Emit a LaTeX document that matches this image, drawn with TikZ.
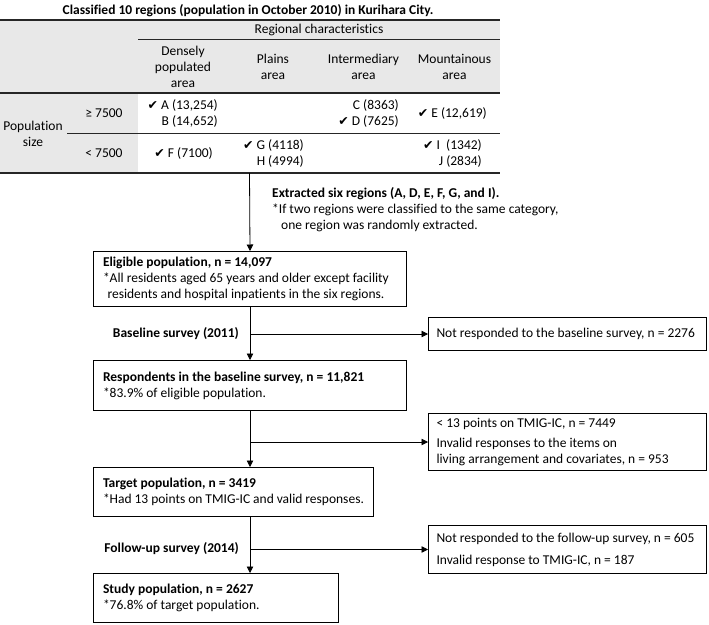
\documentclass[tikz,border=0pt]{standalone}
\usepackage{fontspec}
\setmainfont{Carlito}[Ligatures=NoCommon]
\newfontfamily\symfont{DejaVu Sans}
\usetikzlibrary{arrows.meta}
\newcommand\ck{{\symfont\fontsize{12.5}{12}\selectfont ✔}}
\begin{document}
\begin{tikzpicture}[x=1pt,y=-1pt,
  every node/.style={font=\fontsize{13.5}{16}\selectfont, inner sep=0pt},
  txt/.style={align=center},
  cell/.style={align=right, anchor=east},
  box/.style={draw, line width=1pt, align=flush left, anchor=north west, inner xsep=9.5pt, inner ysep=0pt,
    execute at begin node={\hyphenpenalty=10000 \exhyphenpenalty=10000}},
  arr/.style={line width=0.8pt, -{Triangle[length=6.5pt,width=6.5pt]}},
  rule/.style={black!85}
]
\useasboundingbox (0,0) rectangle (709,624);
% table shading
\fill[black!9] (0,20) rectangle (500,93);
\fill[black!9] (0,93) rectangle (138,173);
\draw[rule, line width=1.4pt] (0,20) -- (500,20);
\draw[rule, line width=0.9pt] (138,39.5) -- (500,39.5);
\draw[rule, line width=1.6pt] (0,93) -- (500,93);
\draw[rule, line width=0.9pt] (67,133) -- (500,133);
\draw[rule, line width=1.6pt] (0,173) -- (500,173);
% title and headers
\node[font=\fontsize{13.5}{16}\selectfont\bfseries] (title) at (248,11) {Classified 10 regions (population in October 2010) in Kurihara City.};
\node (rc) at (319,29.5) {Regional characteristics};
\node[txt] (h1) at (183,66.5) {Densely\\populated\\area};
\node[txt] (h2) at (273,66.5) {Plains\\area};
\node[txt] (h3) at (363.5,66.5) {Intermediary\\area};
\node[txt] (h4) at (454.5,66.5) {Mountainous\\area};
\node[txt] (pop) at (33,134) {Population\\size};
\node (ge) at (104,113) {≥ 7500};
\node (lt) at (104,153) {< 7500};
% cells
\node[cell] (ab) at (218,113) {\ck\ A (13,254)\\B (14,652)};
\node[cell] (cd) at (399,113) {C (8363)\\\ck\ D (7625)};
\node[cell] (e) at (487,113) {\ck\ E (12,619)};
\node[cell] (f) at (213,153) {\ck\ F (7100)};
\node[cell] (gh) at (304,153) {\ck\ G (4118)\\H (4994)};
\node[cell] (ij) at (482,153) {\ck\ I\ \ (1342)\\J (2834)};
% extraction note
\node[anchor=west, align=left] (ext) at (272,210) {\textbf{Extracted six regions (A, D, E, F, G, and I).}\\{}*If two regions were classified to the same category,\\\hspace{9pt}one region was randomly extracted.};
% main boxes
\node[box, text width=294pt, minimum height=55pt] (elig) at (93,251) {\textbf{Eligible population, n = 14,097}\\{}*All residents aged 65 years and older except facility\\\hspace{4.5pt}residents and hospital inpatients in the six regions.};
\node[box, text width=294pt, minimum height=50pt] (resp) at (93,360) {\textbf{Respondents in the baseline survey, n = 11,821}\\{}*83.9\% of eligible population.};
\node[box, text width=261pt, minimum height=49pt] (targ) at (93,467) {\textbf{Target population, n = 3419}\\{}*Had 13 points on TMIG-IC and valid responses.};
\node[box, text width=226pt, minimum height=49pt] (study) at (93,573) {\textbf{Study population, n = 2627}\\{}*76.8\% of target population.};
% side boxes
\node[box, inner xsep=8pt, text width=262pt, minimum height=33pt] (r1) at (428,317) {Not responded to the baseline survey, n = 2276};
\node[box, inner xsep=8pt, text width=262pt, minimum height=57pt] (r2) at (428,413) {< 13 points on TMIG-IC, n = 7449\\[4pt]Invalid responses to the items on\\living arrangement and covariates, n = 953};
\node[box, inner xsep=8pt, text width=262pt, minimum height=48pt] (r3) at (428,525) {Not responded to the follow-up survey, n = 605\\[6pt]Invalid response to TMIG-IC, n = 187};
% labels
\node[anchor=east, font=\fontsize{13.5}{16}\selectfont\bfseries] (bl) at (239,333.5) {Baseline survey (2011)};
\node[anchor=east, font=\fontsize{13.5}{16}\selectfont\bfseries] (fu) at (239,548.5) {Follow-up survey (2014)};
% connectors
\coordinate (tb) at (249.5,173);
\draw[arr] (tb) -- (elig.north);
\draw[arr] (elig.south) -- (resp.north);
\draw[arr] (resp.south) -- (resp.south |- targ.north);
\draw[arr] (resp.south |- targ.south) -- (resp.south |- study.north);
\draw[arr] (elig.south |- r1.west) -- (r1.west);
\draw[arr] (resp.south |- r2.west) -- (r2.west);
\draw[arr] (resp.south |- r3.west) -- (r3.west);
\end{tikzpicture}
\end{document}
